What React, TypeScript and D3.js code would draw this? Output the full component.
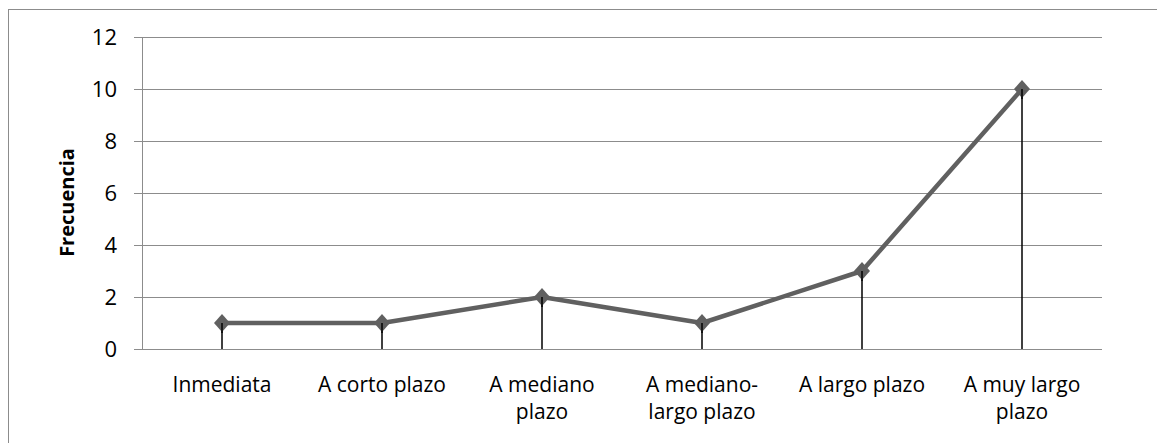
import React from "react";
import * as d3 from "d3";

const categories: string[][] = [
  ["Inmediata"],
  ["A corto plazo"],
  ["A mediano", "plazo"],
  ["A mediano-", "largo plazo"],
  ["A largo plazo"],
  ["A muy largo", "plazo"],
];
const values: number[] = [1, 1, 2, 1, 3, 10];
const yTicks: number[] = [0, 2, 4, 6, 8, 10, 12];
const yTitle = "Frecuencia";

export default function App() {
  const W = 1157, H = 443;
  const left = 142, right = 1102, top = 37, bottom = 349;
  const x = d3.scaleBand<number>().domain(values.map((_, i) => i)).range([left, right]);
  const y = d3.scaleLinear().domain([0, 12]).range([bottom, top]);
  const cx = (i: number) => (x(i) as number) + x.bandwidth() / 2;
  const line = d3.line<number>().x((_, i) => cx(i)).y((d) => y(d));
  const font = "'Open Sans', 'Noto Sans', sans-serif";
  const grid = "#8c8c8c";
  const fs = 21;
  return (
    <svg width={W} height={H} style={{ position: "absolute", left: 0, top: 0 }}>
      <rect x={8.5} y={9.5} width={1160} height={450} fill="white" stroke="#8c8c8c" strokeWidth={1} />
      {yTicks.map((t) => (
        <g key={t}>
          <line x1={left - 8} x2={right} y1={y(t) + 0.5} y2={y(t) + 0.5} stroke={grid} strokeWidth={1} />
          <text x={117} y={y(t) + 8} textAnchor="end" fontFamily={font} fontSize={22} fill="#000">
            {t}
          </text>
        </g>
      ))}
      <line x1={left + 0.5} x2={left + 0.5} y1={top} y2={bottom} stroke={grid} strokeWidth={1} />
      {values.map((v, i) => (
        <line key={i} x1={cx(i)} x2={cx(i)} y1={y(v)} y2={bottom} stroke="#000" strokeWidth={1.5} />
      ))}
      <path d={line(values) || ""} fill="none" stroke="#606060" strokeWidth={4.5} strokeLinejoin="round" />
      {values.map((v, i) => (
        <path
          key={i}
          d={`M${cx(i)},${y(v) - 9} L${cx(i) + 8},${y(v)} L${cx(i)},${y(v) + 9} L${cx(i) - 8},${y(v)} Z`}
          fill="#606060"
        />
      ))}
      {values.map((v, i) => (
        <line key={"d" + i} x1={cx(i)} x2={cx(i)} y1={y(v)} y2={y(v) + 10} stroke="#000" strokeWidth={1.5} />
      ))}
      {categories.map((lines, i) =>
        lines.map((l, j) => (
          <text
            key={i + "-" + j}
            x={cx(i)}
            y={392 + j * 27}
            textAnchor="middle"
            fontFamily={font}
            fontSize={fs}
            fill="#000"
          >
            {l}
          </text>
        ))
      )}
      <text
        transform={`translate(74,${(143 + 262) / 2}) rotate(-90)`}
        textAnchor="middle"
        fontFamily={font}
        fontWeight="bold"
        fontSize={20}
        fill="#000"
      >
        {yTitle}
      </text>
    </svg>
  );
}
